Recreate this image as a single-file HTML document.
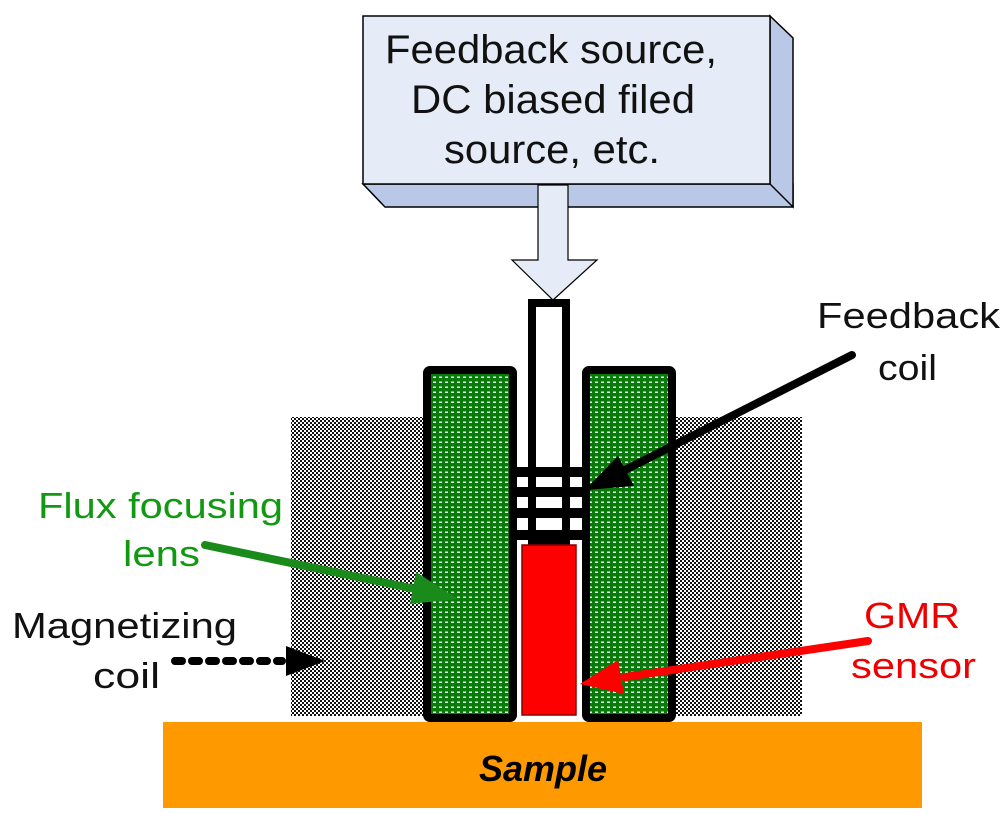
<!DOCTYPE html>
<html><head><meta charset="utf-8"><style>
html,body{margin:0;padding:0;background:#fff;}
svg{display:block;}
text{font-family:"Liberation Sans",Arial,sans-serif;}
</style></head><body>
<svg width="1000" height="813" viewBox="0 0 1000 813" xmlns="http://www.w3.org/2000/svg">
<defs>
<pattern id="chk" width="4" height="4" patternUnits="userSpaceOnUse">
<rect width="4" height="4" fill="#fff"/><rect width="2" height="2" fill="#111"/><rect x="2" y="2" width="2" height="2" fill="#111"/>
</pattern>
<pattern id="grn" width="6" height="5" patternUnits="userSpaceOnUse">
<rect width="6" height="5" fill="#0a7a0a"/><rect x="1" y="1.5" width="3" height="1.5" fill="#dfe"/>
</pattern>
</defs>
<rect x="163" y="722" width="759" height="86" fill="#ff9900"/>
<text x="543" y="781" font-size="36" font-weight="bold" font-style="italic" text-anchor="middle" fill="#000">Sample</text>
<rect x="291" y="417" width="134" height="299" fill="url(#chk)"/>
<rect x="674" y="417" width="128" height="299" fill="url(#chk)"/>
<rect x="427" y="370" width="86" height="348" rx="3" fill="url(#grn)" stroke="#000" stroke-width="8"/>
<rect x="586" y="370" width="86" height="348" rx="3" fill="url(#grn)" stroke="#000" stroke-width="8"/>
<rect x="532" y="303" width="34" height="240" fill="#fff" stroke="#000" stroke-width="8"/>
<g fill="#000">
<rect x="513" y="467" width="73" height="10"/>
<rect x="513" y="487" width="73" height="10"/>
<rect x="513" y="508" width="73" height="10"/>
<rect x="513" y="530" width="73" height="10"/>
</g>
<rect x="528" y="540" width="42" height="8" rx="3" fill="#000"/>
<rect x="522" y="545" width="54" height="170" fill="#ff0000" stroke="#800" stroke-width="1.5"/>
<polygon points="363,184 385,207 793,207 793,184" fill="#b8c8e6" stroke="#000" stroke-width="1.5"/>
<polygon points="770,16 793,38 793,207 770,184" fill="#b8c8e6" stroke="#000" stroke-width="1.5"/>
<rect x="363" y="16" width="407" height="168" fill="#e6ecf7" stroke="#000" stroke-width="1.5"/>
<text x="385" y="63" font-size="40" textLength="332" lengthAdjust="spacingAndGlyphs" fill="#111">Feedback source,</text>
<text x="411" y="113" font-size="40" textLength="284" lengthAdjust="spacingAndGlyphs" fill="#111">DC biased filed</text>
<text x="444" y="163" font-size="40" textLength="216" lengthAdjust="spacingAndGlyphs" fill="#111">source, etc.</text>
<polygon points="538,185 568,185 568,260 597,260 553,300 512,260 538,260" fill="#e6ecf7" stroke="#000" stroke-width="1.2"/>
<text x="817" y="328" font-size="36" textLength="183" lengthAdjust="spacingAndGlyphs" fill="#111">Feedback</text>
<text x="878" y="380" font-size="36" textLength="59" lengthAdjust="spacingAndGlyphs" fill="#111">coil</text>
<text x="38" y="518" font-size="36" textLength="245" lengthAdjust="spacingAndGlyphs" fill="#119911">Flux focusing</text>
<text x="123" y="566" font-size="36" textLength="77" lengthAdjust="spacingAndGlyphs" fill="#119911">lens</text>
<text x="12" y="638" font-size="36" textLength="225" lengthAdjust="spacingAndGlyphs" fill="#111">Magnetizing</text>
<text x="93" y="688" font-size="36" textLength="67" lengthAdjust="spacingAndGlyphs" fill="#111">coil</text>
<text x="864" y="628" font-size="36" textLength="96" lengthAdjust="spacingAndGlyphs" fill="#ee0000">GMR</text>
<text x="851" y="678" font-size="36" textLength="125" lengthAdjust="spacingAndGlyphs" fill="#ee0000">sensor</text>
<line x1="852" y1="355" x2="625" y2="470" stroke="#000" stroke-width="8" stroke-linecap="round"/>
<polygon points="585,490 618,456 634,486" fill="#000"/>
<line x1="205" y1="545" x2="420" y2="590" stroke="#1a8a1a" stroke-width="8" stroke-linecap="round"/>
<polygon points="458,599 416,572 410,604" fill="#1a8a1a"/>
<line x1="175" y1="661" x2="282" y2="661" stroke="#000" stroke-width="8" stroke-linecap="round" stroke-dasharray="7,10"/>
<polygon points="325,661 286,646 286,676" fill="#000"/>
<line x1="868" y1="641" x2="625" y2="677" stroke="#f00" stroke-width="8" stroke-linecap="round"/>
<polygon points="580,684 618,660 624,694" fill="#f00"/>
</svg>
</body></html>
